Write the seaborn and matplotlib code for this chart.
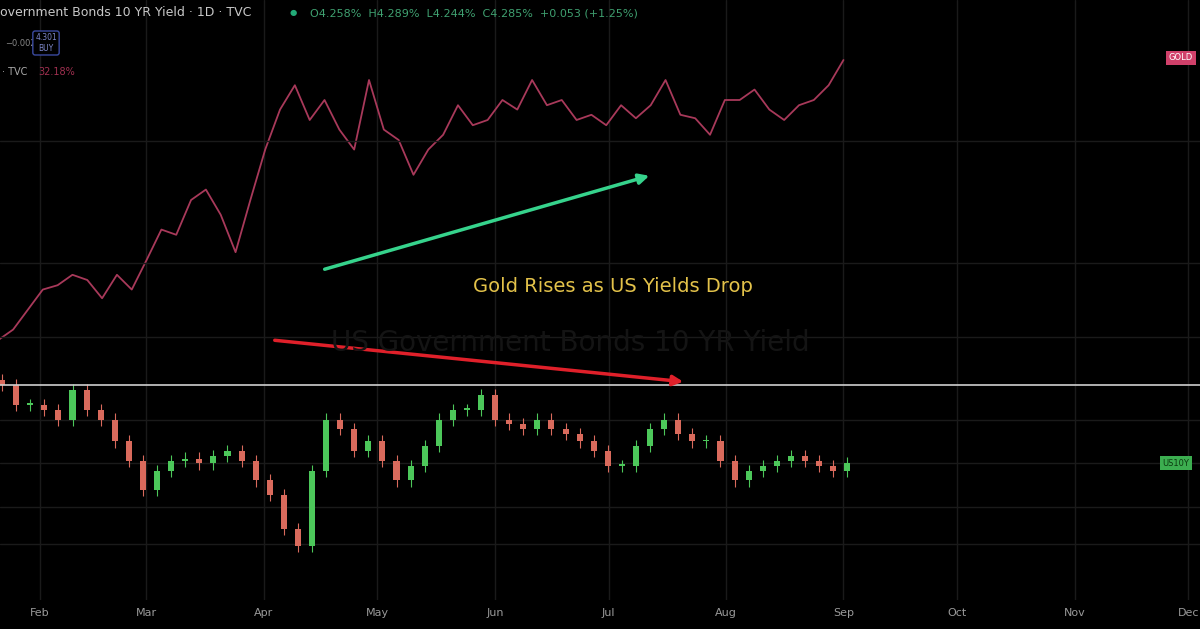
import numpy as np
import pandas as pd
import matplotlib
matplotlib.use("Agg")
import matplotlib.pyplot as plt
import matplotlib.dates as mdates
import seaborn as sns

# Gold % change (evenly spaced samples from Jan 21 to Sep 1)
gold_pct = [0, 1.2, 3.5, 5.8, 6.3, 7.5, 6.9, 4.8, 7.5, 5.8, 9.2, 12.7, 12.1, 16.1, 17.3, 14.4,
            10.1, 16.1, 21.9, 26.5, 29.3, 25.3, 27.6, 24.2, 21.9, 29.9, 24.2, 23.0, 19.0, 21.9,
            23.6, 27.0, 24.7, 25.3, 27.6, 26.5, 29.9, 27.0, 27.6, 25.3, 25.9, 24.7, 27.0, 25.5,
            27.0, 29.9, 25.9, 25.5, 23.6, 27.6, 27.6, 28.8, 26.5, 25.3, 27.0, 27.6, 29.3, 32.2]
gold_start, gold_end = "2025-01-21", "2025-09-01"

# US 10Y yield closes (evenly spaced samples from Jan 22 to Sep 2)
yield_close = [4.60, 4.52, 4.52, 4.50, 4.46, 4.58, 4.50, 4.46, 4.37, 4.29, 4.17, 4.25, 4.29, 4.30,
               4.28, 4.31, 4.33, 4.29, 4.21, 4.15, 4.01, 3.94, 4.25, 4.46, 4.42, 4.33, 4.37, 4.29,
               4.21, 4.27, 4.35, 4.46, 4.50, 4.50, 4.56, 4.46, 4.44, 4.42, 4.46, 4.42, 4.40, 4.37,
               4.33, 4.27, 4.27, 4.35, 4.42, 4.46, 4.40, 4.37, 4.37, 4.29, 4.21, 4.25, 4.27, 4.29,
               4.31, 4.29, 4.27, 4.25, 4.28]
yield_start, yield_end = "2025-01-22", "2025-09-02"

month_labels = ["Feb", "Mar", "Apr", "May", "Jun", "Jul", "Aug", "Sep", "Oct", "Nov", "Dec"]

sns.set_style("dark")
plt.rcParams['font.family'] = ['DejaVu Sans']
fig = plt.figure(figsize=(12, 6.29), dpi=100, facecolor="black")
ax = fig.add_axes([0, 29/629, 1, 600/629])
ax.set_facecolor("black")
ax2 = ax.twinx()

gdates = pd.date_range(gold_start, gold_end, periods=len(gold_pct))
gdf = pd.DataFrame({"date": gdates, "gold": gold_pct})
sns.lineplot(data=gdf, x="date", y="gold", ax=ax, color="#a8395a", linewidth=1.3)
ax.set_ylim(-29.9, 39.1)

ydates = pd.date_range(yield_start, yield_end, periods=len(yield_close))
opens = [yield_close[0] + 0.02] + yield_close[:-1]
for d, o, c in zip(ydates, opens, yield_close):
    col = "#4cc75a" if c >= o else "#d96a5c"
    hi, lo = max(o, c) + 0.025, min(o, c) - 0.025
    ax2.vlines(d, lo, hi, color=col, linewidth=0.8)
    ax2.bar(d, max(abs(c - o), 0.008), bottom=min(o, c), width=1.6, color=col,
            edgecolor=col, linewidth=0)
ax2.set_ylim(3.72, 6.18)
ax2.axhline(4.60, color="#cfcfcf", linewidth=1.2)

x0 = mdates.date2num(pd.Timestamp("2025-02-01"))
ax.set_xlim(x0 - 40/3.79, x0 + 1160/3.79)
ticks = pd.date_range("2025-02-01", periods=11, freq="MS")
ax.set_xticks(ticks)
ax.set_xticklabels(month_labels, color="#9a9a9a", fontsize=8)
ax.tick_params(axis="x", length=0, pad=6)
for t in ticks:
    ax.axvline(t, color="#1a1a1a", linewidth=1, zorder=0)
for yv in [4.28, 4.46, 4.10, 3.95, 5.6, 5.1, 4.8]:
    ax2.axhline(yv, color="#1a1a1a", linewidth=1, zorder=0)
ax.set_yticks([]); ax2.set_yticks([])
ax.set_xlabel(""); ax.set_ylabel("")
for a in (ax, ax2):
    for s in a.spines.values():
        s.set_visible(False)
ax.grid(False); ax2.grid(False)

def P(x, y):
    return (x / 1200, 1 - y / 629)

fig.text(*P(0, 13), "overnment Bonds 10 YR Yield · 1D · TVC", color="#c8c8c8", fontsize=9, va="center")
fig.text(*P(290, 13), "●", color="#22aa77", fontsize=6, va="center")
fig.text(*P(310, 13), "O4.258%  H4.289%  L4.244%  C4.285%  +0.053 (+1.25%)", color="#3fa070", fontsize=8, va="center")
fig.text(*P(5, 43), "−0.002", color="#888888", fontsize=6, va="center")
fig.text(*P(46, 43), "4.301\nBUY", color="#7d86c8", fontsize=5.5, va="center", ha="center",
         bbox=dict(boxstyle="round,pad=0.3", fc="black", ec="#3b4aa0"))
fig.text(*P(2, 72), "· TVC", color="#aaaaaa", fontsize=7, va="center")
fig.text(*P(38, 72), "32.18%", color="#a03050", fontsize=7, va="center")
fig.text(*P(570, 343), "US Government Bonds 10 YR Yield", color="#141414", fontsize=20, va="center", ha="center")
fig.text(*P(613, 287), "Gold Rises as US Yields Drop", color="#e3c24a", fontsize=14, va="center", ha="center")
fig.text(*P(1181, 58), "GOLD", color="white", fontsize=6, va="center", ha="center",
         bbox=dict(boxstyle="square,pad=0.3", fc="#d0406a", ec="none"))
fig.text(*P(1176, 463), "US10Y", color="#0c3a10", fontsize=6, va="center", ha="center",
         bbox=dict(boxstyle="square,pad=0.3", fc="#3cae50", ec="none"))

fig.add_artist(matplotlib.patches.FancyArrowPatch(P(322, 270), P(652, 175), transform=fig.transFigure,
               arrowstyle="-|>,head_length=6,head_width=3", color="#36d38c", linewidth=2.5))
fig.add_artist(matplotlib.patches.FancyArrowPatch(P(272, 340), P(686, 382), transform=fig.transFigure,
               arrowstyle="-|>,head_length=6,head_width=3", color="#e0202a", linewidth=2.5))

fig.savefig("out.png", dpi=100, facecolor="black")
